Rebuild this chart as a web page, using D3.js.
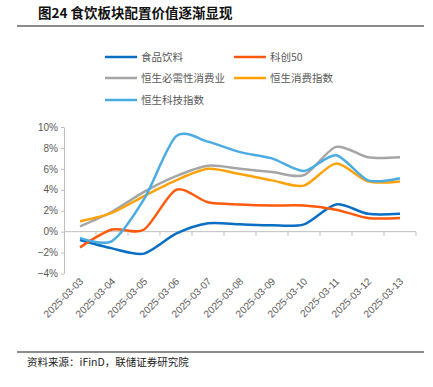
<!DOCTYPE html>
<html>
<head>
<meta charset="utf-8">
<script src="https://cdn.jsdelivr.net/npm/d3@7"></script>
<style>
  body { margin: 0; background: #fff; }
  svg { display: block; font-family: "Noto Sans CJK SC", "Liberation Sans", sans-serif; }
</style>
</head>
<body>
<div id="chart"></div>
<script>
// data
var dates = ["2025-03-03","2025-03-04","2025-03-05","2025-03-06","2025-03-07","2025-03-08",
             "2025-03-09","2025-03-10","2025-03-11","2025-03-12","2025-03-13"];
var foodBev   = [-0.8, -1.6, -2.1, -0.2, 0.8, 0.7, 0.6, 0.7, 2.6, 1.7, 1.7];
var star50    = [-1.5, 0.2, 0.2, 4.0, 2.8, 2.6, 2.5, 2.5, 2.1, 1.3, 1.3];
var hsStaples = [0.5, 1.9, 3.8, 5.3, 6.3, 6.0, 5.7, 5.4, 8.1, 7.1, 7.1];
var hsConsume = [1.0, 1.8, 3.4, 4.9, 6.0, 5.5, 4.9, 4.4, 6.5, 4.8, 4.8];
var hsTech    = [-0.6, -0.9, 3.1, 9.1, 8.6, 7.6, 7.0, 5.8, 7.3, 4.9, 5.1];
var yTicks = [-4, -2, 0, 2, 4, 6, 8, 10];

var series = [
  {name: "食品饮料", values: foodBev, color: "#0A6FC2"},
  {name: "科创50", values: star50, color: "#FF5A0E"},
  {name: "恒生必需性消费业", values: hsStaples, color: "#A5A5A5"},
  {name: "恒生消费指数", values: hsConsume, color: "#FFA20A"},
  {name: "恒生科技指数", values: hsTech, color: "#4AACE2"}
];

var W = 433, H = 387;
var svg = d3.select("#chart").append("svg").attr("width", W).attr("height", H);

// title and rules
svg.append("text").attr("x", 38).attr("y", 18)
  .style("font-size", "13.5px").style("font-weight", "bold").attr("fill", "#111")
  .text("图24 食饮板块配置价值逐渐显现");
svg.append("line").attr("x1", 17).attr("x2", 424).attr("y1", 26).attr("y2", 26)
  .attr("stroke", "#8c8c8c").attr("stroke-width", 2);
svg.append("line").attr("x1", 17).attr("x2", 424).attr("y1", 352).attr("y2", 352)
  .attr("stroke", "#8c8c8c").attr("stroke-width", 2);
svg.append("text").attr("x", 27).attr("y", 366)
  .style("font-size", "10.5px").attr("fill", "#222")
  .text("资料来源：iFinD，联储证券研究院");

var x = d3.scaleBand().domain(dates).range([64, 416]);
var y = d3.scaleLinear().domain([-4, 10]).range([273.5, 127]);

// y axis
var yAxis = svg.append("g").attr("transform", "translate(64,0)")
  .call(d3.axisLeft(y).tickValues(yTicks).tickSize(3).tickSizeOuter(0)
    .tickFormat(function(d) { return d3.format("")(d) + "%"; }));
yAxis.select(".domain").attr("stroke", "#bfbfbf");
yAxis.selectAll(".tick line").attr("stroke", "#bfbfbf");
yAxis.selectAll("text").attr("fill", "#595959").style("font-size", "10px")
  .style("font-family", "'Liberation Sans', sans-serif").attr("x", -6);

// x axis on the zero line, ticks at band edges
var xAxis = svg.append("g").attr("transform", "translate(0," + y(0) + ")");
xAxis.append("line").attr("x1", 64).attr("x2", 416).attr("stroke", "#bfbfbf");
xAxis.selectAll(".xt").data(dates.slice(1).concat(["end"])).enter().append("line")
  .attr("x1", function(d, i) { return x(dates[0]) + x.bandwidth() * (i + 1); })
  .attr("x2", function(d, i) { return x(dates[0]) + x.bandwidth() * (i + 1); })
  .attr("y1", 0).attr("y2", 4).attr("stroke", "#bfbfbf");

// rotated date labels
svg.selectAll(".xl").data(dates).enter().append("text")
  .attr("transform", function(d) {
    return "translate(" + (x(d) + x.bandwidth() / 2 + 4) + ",282) rotate(-45)";
  })
  .attr("text-anchor", "end")
  .style("font-size", "10px").style("font-family", "'Liberation Sans', sans-serif")
  .attr("fill", "#595959")
  .text(function(d) { return d; });

// lines
var line = d3.line()
  .x(function(d, i) { return x(dates[i]) + x.bandwidth() / 2; })
  .y(function(d) { return y(d); })
  .curve(d3.curveCardinal.tension(0.2));

svg.selectAll(".series").data(series).enter().append("path")
  .attr("fill", "none")
  .attr("stroke", function(d) { return d.color; })
  .attr("stroke-width", 2.5)
  .attr("d", function(d) { return line(d.values); });

// legend
var legPos = [[105, 57], [234, 57], [105, 78], [234, 78], [105, 100]];
var leg = svg.selectAll(".leg").data(series).enter().append("g")
  .attr("transform", function(d, i) { return "translate(" + legPos[i][0] + "," + legPos[i][1] + ")"; });
leg.append("line").attr("x1", 0).attr("x2", 32).attr("y1", 0).attr("y2", 0)
  .attr("stroke", function(d) { return d.color; }).attr("stroke-width", 2.5);
leg.append("text").attr("x", 36).attr("y", 4)
  .style("font-size", "10.5px").attr("fill", "#595959")
  .text(function(d) { return d.name; });
</script>
</body>
</html>
